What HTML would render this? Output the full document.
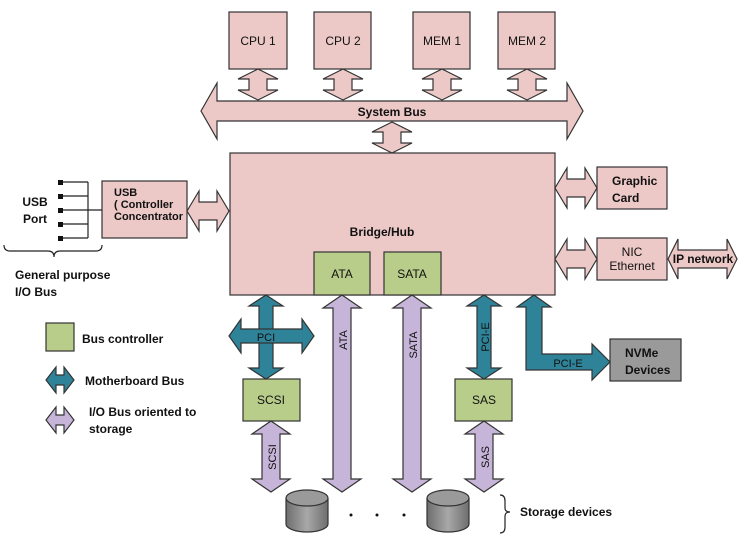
<!DOCTYPE html>
<html><head><meta charset="utf-8"><style>
html,body{margin:0;padding:0;background:#fff}
svg{display:block}
text{font-family:"Liberation Sans",sans-serif;fill:#111}
.b{font-weight:bold}
</style></head><body>
<svg width="747" height="540" viewBox="0 0 747 540" xmlns="http://www.w3.org/2000/svg">
<defs>
<linearGradient id="g" x1="0" x2="1"><stop offset="0" stop-color="#6e6e6e"/><stop offset="0.5" stop-color="#a8a8a8"/><stop offset="1" stop-color="#6e6e6e"/></linearGradient>
</defs>
<g stroke="#333" stroke-width="1.2">
<!-- top boxes -->
<rect x="229" y="12" width="58" height="57" fill="#ecc9c7"/>
<rect x="314" y="12" width="57" height="57" fill="#ecc9c7"/>
<rect x="413" y="12" width="57" height="57" fill="#ecc9c7"/>
<rect x="498" y="12" width="57" height="57" fill="#ecc9c7"/>
<g fill="#ecc9c7">
<polygon points="258,69 278,79 267,79 267,90 278,90 258,100 238,90 249,90 249,79 238,79"/>
<polygon points="343,69 363,79 352,79 352,90 363,90 343,100 323,90 334,90 334,79 323,79"/>
<polygon points="442,69 462,79 451,79 451,90 462,90 442,100 422,90 433,90 433,79 422,79"/>
<polygon points="527,69 547,79 536,79 536,90 547,90 527,100 507,90 518,90 518,79 507,79"/>
<polygon points="392,122 412,132 401,132 401,143 412,143 392,153 372,143 383,143 383,132 372,132"/>
<polygon points="201,111 217,83 217,101 567,101 567,83 583,111 567,139 567,121 217,121 217,139"/>
<rect x="230" y="153" width="325" height="142"/>
<rect x="102" y="181" width="85" height="57"/>
<polygon points="187,211 199,191 199,202 217,202 217,191 229,211 217,231 217,220 199,220 199,231"/>
<rect x="597" y="167" width="70" height="42"/>
<rect x="597" y="238" width="70" height="42"/>
<polygon points="555,188 567,168 567,179 585,179 585,168 597,188 585,208 585,197 567,197 567,208"/>
<polygon points="555,259 567,239 567,250 585,250 585,239 597,259 585,279 585,268 567,268 567,279"/>
<polygon points="668,259 678,239 678,250 727,250 727,239 737,259 727,279 727,268 678,268 678,279"/>
</g>
<g fill="#b9cd8b">
<rect x="314" y="252" width="56" height="43"/>
<rect x="384" y="252" width="57" height="43"/>
<rect x="243" y="379" width="57" height="42"/>
<rect x="455" y="379" width="57" height="42"/>
<rect x="46" y="323" width="28" height="28"/>
</g>
<rect x="610" y="339" width="71" height="42" fill="#9a9a9a"/>
<g fill="#2f8398">
<polygon points="266,295 283,306 273,306 273,368 283,368 266,379 249,368 259,368 259,306 249,306"/>
<polygon points="229,336 241,319 241,329 302,329 302,319 314,336 302,353 302,343 241,343 241,353"/>
<polygon points="484,295 501,306 491,306 491,368 501,368 484,379 467,368 477,368 477,306 467,306"/>
<polygon points="534,295 551,307 542,307 542,354 592,354 592,344 610,362 592,380 592,370 526,370 526,307 517,307"/>
<polygon points="46,380 56,367 56,375 64,375 64,367 74,380 64,393 64,385 56,385 56,393"/>
</g>
<g fill="#c6b5d8">
<polygon points="342,295 361,308 351,308 351,479 361,479 342,492 323,479 333,479 333,308 323,308"/>
<polygon points="412,295 431,308 421,308 421,479 431,479 412,492 393,479 403,479 403,308 393,308"/>
<polygon points="271,421 290,434 280,434 280,479 290,479 271,492 252,479 262,479 262,434 252,434"/>
<polygon points="484,421 503,434 493,434 493,479 503,479 484,492 465,479 475,479 475,434 465,434"/>
<polygon points="46,420 56,407 56,415 64,415 64,407 74,420 64,433 64,425 56,425 56,433"/>
</g>
<!-- disks -->
<path d="M286,498 v26 a21,8 0 0 0 42,0 v-26" fill="url(#g)"/>
<ellipse cx="307" cy="498" rx="21" ry="8" fill="#9a9a9a"/>
<path d="M427,498 v26 a21,8 0 0 0 42,0 v-26" fill="url(#g)"/>
<ellipse cx="448" cy="498" rx="21" ry="8" fill="#9a9a9a"/>
</g>
<!-- USB port lines -->
<g stroke="#222" stroke-width="1.2" fill="none">
<path d="M62,182H88M62,196H88M62,210H102M62,224H88M62,238H88M88,182V238"/>
<path d="M4,245 q0,6 6,6 h38 q6,0 6,6 q0,-6 6,-6 h36 q6,0 6,-6"/>
<path d="M500,495 q5,0 5,6 v7 q0,4 5,4 q-5,0 -5,4 v11 q0,6 -5,6"/>
</g>
<g fill="#111">
<rect x="58" y="180" width="5" height="5"/><rect x="58" y="194" width="5" height="5"/><rect x="58" y="208" width="5" height="5"/><rect x="58" y="222" width="5" height="5"/><rect x="58" y="236" width="5" height="5"/>
<circle cx="351" cy="515" r="1.5"/><circle cx="377" cy="515" r="1.5"/><circle cx="404" cy="515" r="1.5"/>
</g>
<g font-size="12">
<text x="258" y="45" text-anchor="middle">CPU 1</text>
<text x="343" y="45" text-anchor="middle">CPU 2</text>
<text x="442" y="45" text-anchor="middle">MEM 1</text>
<text x="527" y="45" text-anchor="middle">MEM 2</text>
<text x="342" y="278" text-anchor="middle">ATA</text>
<text x="412" y="278" text-anchor="middle">SATA</text>
<text x="271" y="404" text-anchor="middle">SCSI</text>
<text x="484" y="404" text-anchor="middle">SAS</text>
<text x="632" y="256" text-anchor="middle">NIC</text>
<text x="632" y="270" text-anchor="middle">Ethernet</text>
<text x="266" y="341" text-anchor="middle" font-size="11">PCI</text>
<text x="568" y="367" text-anchor="middle" font-size="11">PCI-E</text>
<text transform="translate(347,340) rotate(-90)" text-anchor="middle" font-size="11">ATA</text>
<text transform="translate(417,345) rotate(-90)" text-anchor="middle" font-size="11">SATA</text>
<text transform="translate(489,337) rotate(-90)" text-anchor="middle" font-size="11">PCI-E</text>
<text transform="translate(276,457) rotate(-90)" text-anchor="middle" font-size="11">SCSI</text>
<text transform="translate(489,457) rotate(-90)" text-anchor="middle" font-size="11">SAS</text>
</g>
<g class="b" font-size="12">
<text x="392" y="116" text-anchor="middle" class="b">System Bus</text>
<text x="382" y="236" text-anchor="middle" class="b">Bridge/Hub</text>
<text x="612" y="185" class="b">Graphic</text>
<text x="612" y="202" class="b">Card</text>
<text x="703" y="263" text-anchor="middle" class="b">IP network</text>
<text x="625" y="357" class="b">NVMe</text>
<text x="625" y="374" class="b">Devices</text>
<text x="35" y="206" text-anchor="middle" class="b">USB</text>
<text x="35" y="223" text-anchor="middle" class="b">Port</text>
<text x="15" y="279" class="b">General purpose</text>
<text x="15" y="296" class="b">I/O Bus</text>
<text x="82" y="343" class="b">Bus controller</text>
<text x="85" y="385" class="b">Motherboard Bus</text>
<text x="89" y="416" class="b">I/O Bus oriented to</text>
<text x="89" y="433" class="b">storage</text>
<text x="520" y="516" class="b">Storage devices</text>
<text x="114" y="196" class="b" font-size="11">USB</text>
<text x="114" y="208" class="b" font-size="11">( Controller</text>
<text x="114" y="220" class="b" font-size="11">Concentrator</text>
</g>
</svg>
</body></html>
